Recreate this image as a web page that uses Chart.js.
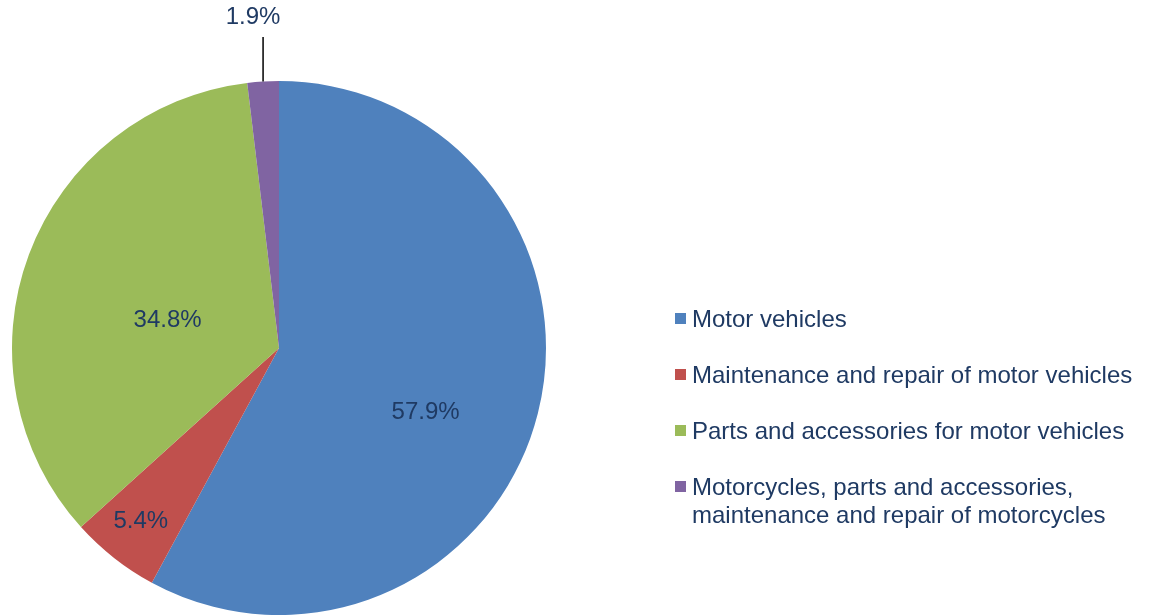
<!DOCTYPE html>
<html>
<head>
<meta charset="utf-8">
<script src="https://cdn.jsdelivr.net/npm/chart.js@4"></script>
<style>
    html, body { margin: 0; padding: 0; background: #fff; }
    #wrap { position: relative; width: 1152px; height: 616px; }
    #legend { position: absolute; left: 675px; top: 0; font-family: "Liberation Sans", Arial, sans-serif; font-size: 24px; color: #1F3A63; }
    .item { position: absolute; left: 0; white-space: nowrap; line-height: 28px; }
    .item .box { position: absolute; left: 0; top: 8px; width: 11px; height: 11px; }
    .item .txt { position: absolute; left: 17px; top: 0; }
</style>
</head>
<body>
<div id="wrap">
    <canvas id="pieChart" width="1152" height="616"></canvas>
    <div id="legend"></div>
</div>
<script>
// Sales breakdown by activity, shares in percent
const categories = [
    'Motor vehicles',
    'Maintenance and repair of motor vehicles',
    'Parts and accessories for motor vehicles',
    'Motorcycles, parts and accessories,\nmaintenance and repair of motorcycles'
];
const shares = [57.9, 5.4, 34.8, 1.9];
const colors = ['#4F81BD', '#C0504D', '#9BBB59', '#8064A2'];

const textColor = '#1F3A63';
const fontFamily = '"Liberation Sans", Arial, sans-serif';

// label placement per slice: r = fraction of radius, da = angle shift in degrees
const labelPlacement = [
    { r: 0.60, da: 9.6 },
    { r: 0.83, da: 0.4 },
    { r: 0.43, da: -6.5 },
    { outside: true, lineTo: 37, dx: -10, ty: 17 }
];

const sliceLabels = {
    id: 'sliceLabels',
    afterDatasetsDraw(chart) {
        const ctx = chart.ctx;
        const meta = chart.getDatasetMeta(0);
        ctx.save();
        ctx.font = '24px ' + fontFamily;
        ctx.fillStyle = textColor;
        ctx.textAlign = 'center';
        ctx.textBaseline = 'middle';
        meta.data.forEach(function(arc, i) {
            const p = arc.getProps(['x', 'y', 'startAngle', 'endAngle', 'outerRadius'], true);
            const mid = (p.startAngle + p.endAngle) / 2;
            const place = labelPlacement[i];
            const text = shares[i].toFixed(1) + '%';
            if (place.outside) {
                const ex = p.x + Math.cos(mid) * p.outerRadius;
                const ey = p.y + Math.sin(mid) * p.outerRadius;
                ctx.strokeStyle = '#000';
                ctx.lineWidth = 1.5;
                ctx.beginPath();
                ctx.moveTo(ex, ey);
                ctx.lineTo(ex, place.lineTo);
                ctx.stroke();
                ctx.fillText(text, ex + place.dx, place.ty);
            } else {
                const a = mid + place.da * Math.PI / 180;
                const rr = p.outerRadius * place.r;
                ctx.fillText(text, p.x + Math.cos(a) * rr, p.y + Math.sin(a) * rr);
            }
        });
        ctx.restore();
    }
};

new Chart(document.getElementById('pieChart').getContext('2d'), {
    type: 'pie',
    data: {
        labels: categories,
        datasets: [{
            data: shares,
            backgroundColor: colors,
            borderWidth: 0
        }]
    },
    options: {
        responsive: false,
        animation: false,
        layout: {
            padding: { left: 12, right: 606, top: 81, bottom: 1 }
        },
        plugins: {
            legend: { display: false },
            tooltip: { enabled: false }
        }
    },
    plugins: [sliceLabels]
});

// html legend
const legendTops = [305, 361, 417, 473];
const legend = document.getElementById('legend');
categories.forEach(function(name, i) {
    const item = document.createElement('div');
    item.className = 'item';
    item.style.top = legendTops[i] + 'px';
    const box = document.createElement('span');
    box.className = 'box';
    box.style.background = colors[i];
    const txt = document.createElement('span');
    txt.className = 'txt';
    txt.innerHTML = name.split('\n').join('<br>');
    item.appendChild(box);
    item.appendChild(txt);
    legend.appendChild(item);
});
</script>
</body>
</html>
